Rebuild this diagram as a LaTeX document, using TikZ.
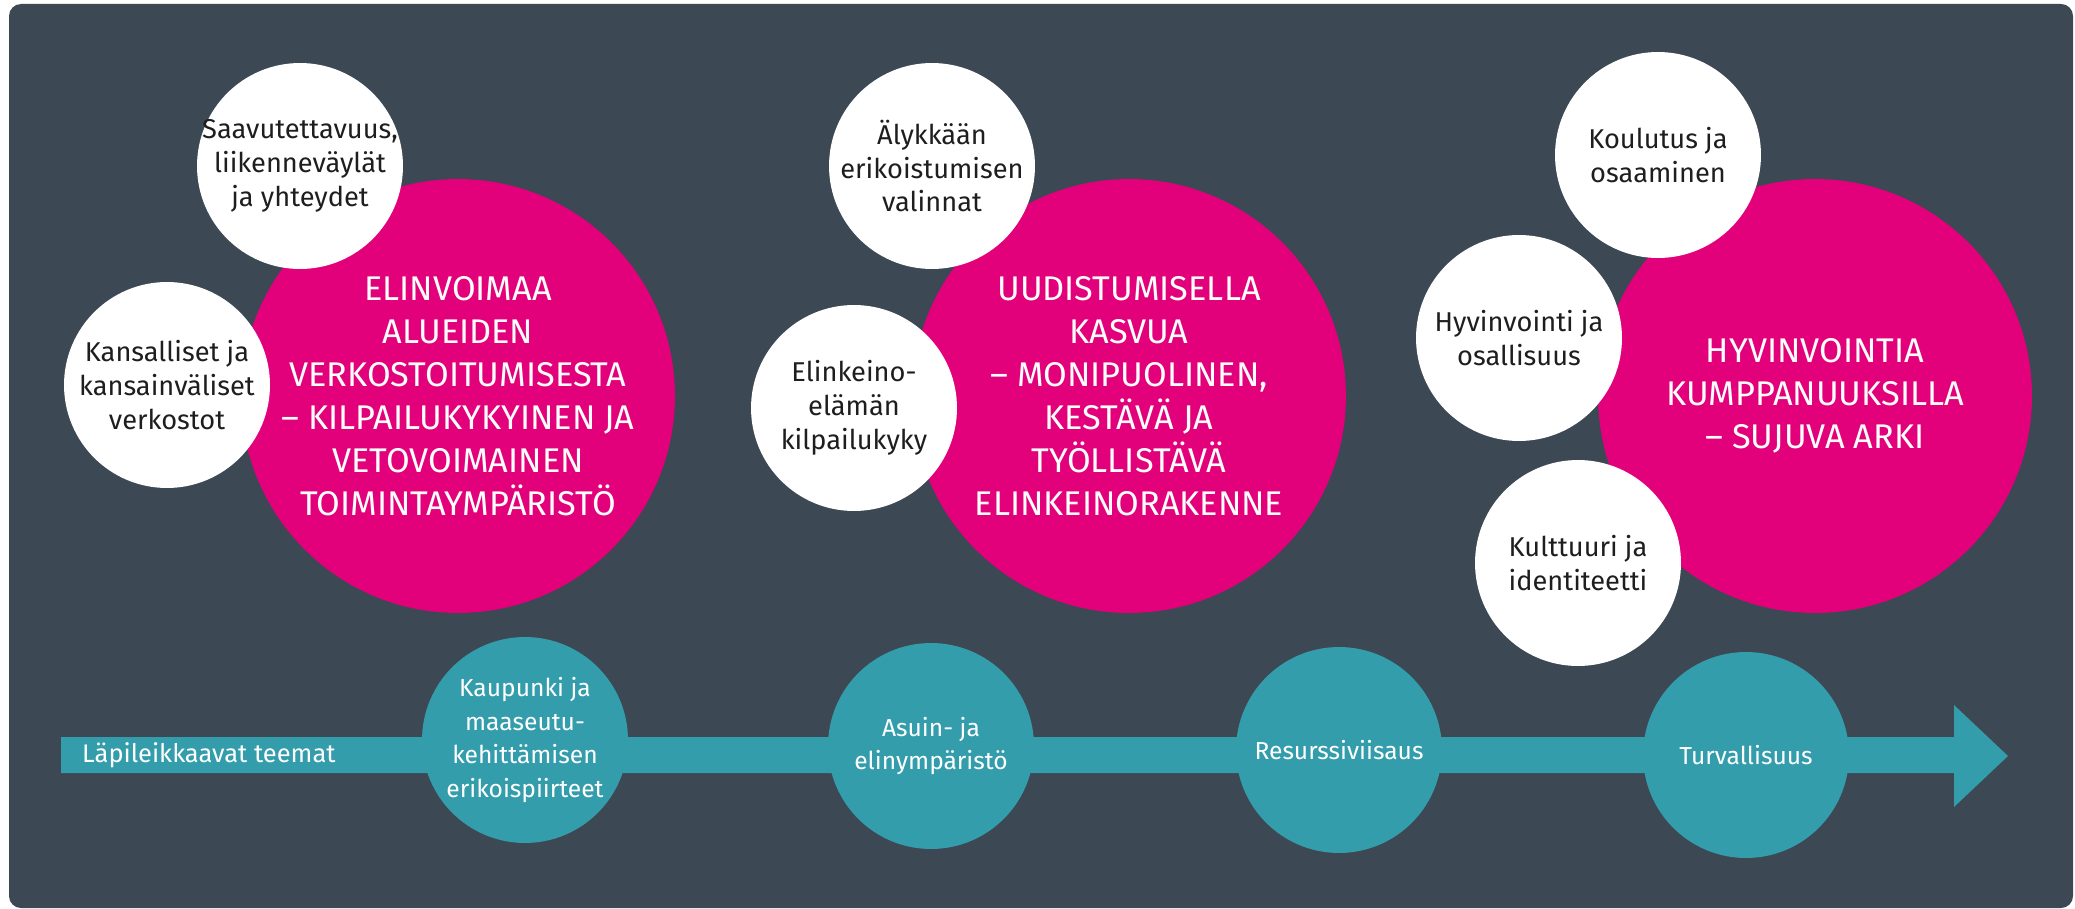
\documentclass[tikz,border=0pt]{standalone}
\usepackage{fontspec}
\setmainfont{Fira Sans}
\definecolor{slate}{RGB}{60,72,84}
\definecolor{teemapink}{RGB}{227,0,123}
\definecolor{teemateal}{RGB}{51,157,172}
\definecolor{ink}{RGB}{30,30,30}
\begin{document}
\begin{tikzpicture}
    [x=0.02cm,y=-0.02cm,
     ball/.style={circle,inner sep=-2cm,align=center,minimum size=4.12cm},
     big/.style={ball,fill=teemapink,text=white,minimum size=8.68cm,
       font=\fontsize{19.5}{24.5}\selectfont},
     small/.style={ball,fill=white,text=ink,font=\fontsize{15.5}{19.3}\selectfont},
     theme/.style={ball,fill=teemateal,text=white,font=\fontsize{14}{19.3}\selectfont}]
    \useasboundingbox (0,0) rectangle (2075,909);
    \fill[slate,rounded corners=0.24cm] (9,4) rectangle (2073,908);
    \fill[teemateal] (61,737) -- (1954,737) -- (1954,705) -- (2008,756)
      -- (1954,807) -- (1954,773) -- (61,773) -- cycle;
    \node[anchor=west,text=white,font=\fontsize{14.5}{18}\selectfont]
      (teemat) at (76,755) {Läpileikkaavat teemat};
    \node[theme] (kaupunki) at (525,740) {Kaupunki ja\\maaseutu-\\kehittämisen\\erikoispiirteet};
    \node[theme] (asuin) at (931,746) {Asuin- ja\\elinympäristö};
    \node[theme] (resurssi) at (1339,750) {Resurssiviisaus};
    \node[theme] (turva) at (1746,755) {Turvallisuus};
    \node[big] (elinvoima) at (458,396)
      {ELINVOIMAA\\ALUEIDEN\\VERKOSTOITUMISESTA\\– KILPAILUKYKYINEN JA\\VETOVOIMAINEN\\TOIMINTAYMPÄRISTÖ};
    \node[big] (uudistuminen) at (1129,396)
      {UUDISTUMISELLA\\KASVUA\\– MONIPUOLINEN,\\KESTÄVÄ JA\\TYÖLLISTÄVÄ\\ELINKEINORAKENNE};
    \node[big] (hyvinvointi) at (1815,396) {HYVINVOINTIA\\KUMPPANUUKSILLA\\– SUJUVA ARKI};
    \node[small] (saavutettavuus) at (300,166) {Saavutettavuus,\\liikenneväylät\\ja yhteydet};
    \node[small] (verkostot) at (167,385) {Kansalliset ja\\kansainväliset\\verkostot};
    \node[small] (alykkaan) at (932,166) {Älykkään\\erikoistumisen\\valinnat};
    \node[small] (kilpailukyky) at (854,408) {Elinkeino-\\elämän\\kilpailukyky};
    \node[small] (koulutus) at (1658,155) {Koulutus ja\\osaaminen};
    \node[small] (osallisuus) at (1519,338) {Hyvinvointi ja\\osallisuus};
    \node[small] (kulttuuri) at (1578,563) {Kulttuuri ja\\identiteetti};
\end{tikzpicture}
\end{document}
